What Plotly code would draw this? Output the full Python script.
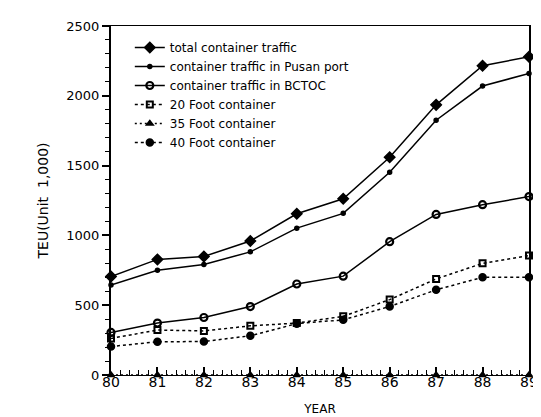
import plotly.graph_objects as go

years = [80, 81, 82, 83, 84, 85, 86, 87, 88, 89]
year_labels = ["80", "81", "82", "83", "84", "85", "86", "87", "88", "89"]

total = [705, 828, 849, 960, 1155, 1262, 1560, 1935, 2215, 2280]
pusan = [645, 750, 792, 882, 1052, 1158, 1452, 1825, 2070, 2160]
bctoc = [305, 372, 412, 490, 652, 708, 955, 1150, 1220, 1278]
ft20 = [262, 322, 316, 352, 372, 420, 540, 688, 800, 856]
ft35 = [0, 0, 0, 0, 0, 0, 0, 0, 0, 0]
ft40 = [204, 238, 240, 281, 368, 395, 491, 610, 700, 700]

names = [
    "total container traffic",
    "container traffic in Pusan port",
    "container traffic in BCTOC",
    "20 Foot container",
    "35 Foot container",
    "40 Foot container",
]

FONT = "DejaVu Sans"
fig = go.Figure()

def add(y, name, dash, symbol, size, lw=1.5, mlw=1.5):
    fig.add_trace(go.Scatter(
        x=years, y=y, name=name, mode="lines+markers",
        line=dict(color="black", width=lw, dash=dash),
        marker=dict(color="black", symbol=symbol, size=size,
                    line=dict(color="black", width=mlw)),
        cliponaxis=False,
    ))

add(total, names[0], "solid", "diamond", 8)
add(pusan, names[1], "solid", "circle", 4)
add(bctoc, names[2], "solid", "circle-open", 7, mlw=2.2)
add(ft20, names[3], "3px,3px", "square-open", 6, mlw=2)
add(ft35, names[4], "2px,3px", "triangle-up", 6)
add(ft40, names[5], "3px,3px", "circle", 7)

fig.update_layout(
    width=541, height=417,
    margin=dict(l=103, r=16, t=11, b=50),
    paper_bgcolor="white", plot_bgcolor="white",
    font=dict(family=FONT, color="black"),
    showlegend=True,
    legend=dict(
        x=0.045, y=0.98, xanchor="left", yanchor="top",
        font=dict(family=FONT, size=12, color="black"),
        bgcolor="rgba(0,0,0,0)", borderwidth=0,
        itemwidth=30, tracegroupgap=0,
    ),
    xaxis=dict(
        range=[80, 89], tickmode="array", tickvals=years, ticktext=year_labels,
        ticks="inside", ticklen=8, tickwidth=1.5, tickcolor="black",
        minor=dict(dtick=0.2, ticks="inside", ticklen=5, tickwidth=1, tickcolor="black"),
        showline=True, linecolor="black", linewidth=1, mirror=True,
        showgrid=False, zeroline=False,
        ticklabelstandoff=-6,
        tickfont=dict(family=FONT, size=14, color="black"),
        title=dict(text="YEAR", font=dict(family=FONT, size=12, color="black"), standoff=15),
    ),
    yaxis=dict(
        range=[0, 2500], tickmode="linear", tick0=0, dtick=500,
        ticks="outside", ticklen=7, tickwidth=1.5, tickcolor="black",
        minor=dict(dtick=100, ticks="outside", ticklen=4, tickwidth=1, tickcolor="black"),
        showline=True, linecolor="black", linewidth=2, mirror=True,
        showgrid=False, zeroline=False,
        tickfont=dict(family=FONT, size=13, color="black"),
        title=dict(text="TEU(Unit\u00a0 1,000)", font=dict(family=FONT, size=14, color="black"), standoff=14),
    ),
)

fig.write_html("out.html")
